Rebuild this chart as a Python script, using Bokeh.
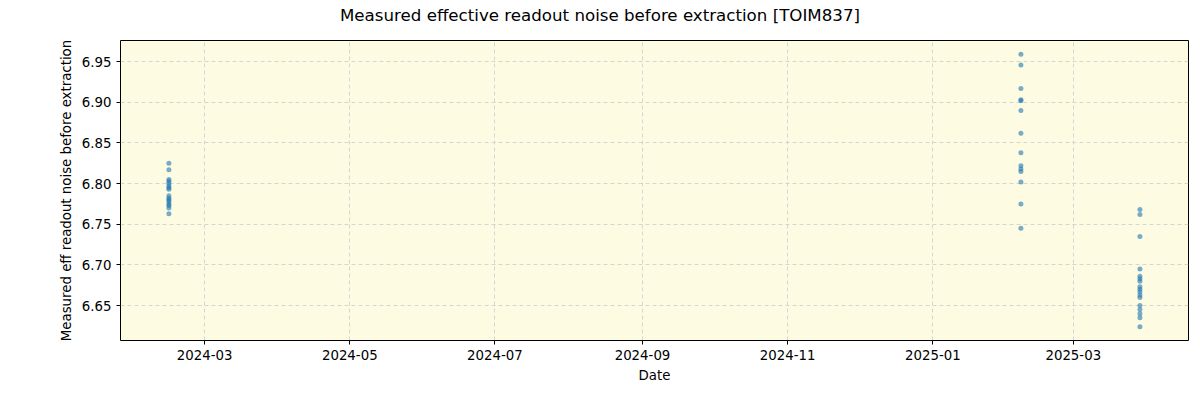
import pandas as pd
from bokeh.plotting import figure
from bokeh.layouts import column
from bokeh.models import (FixedTicker, DatetimeTickFormatter, Range1d, ColumnDataSource,
                          NumeralTickFormatter, Div)
from bokeh.embed import file_html
from bokeh.resources import INLINE

title_text = "Measured effective readout noise before extraction [TOIM837]"
dates1 = ["2024-02-15"] * 16
vals1 = [6.825, 6.817, 6.805, 6.803, 6.800, 6.797, 6.795, 6.793, 6.785, 6.782,
         6.780, 6.778, 6.775, 6.773, 6.770, 6.763]
dates2 = ["2025-02-07"] * 14
vals2 = [6.959, 6.946, 6.917, 6.903, 6.902, 6.890, 6.862, 6.838, 6.822, 6.818,
         6.815, 6.802, 6.775, 6.745]
dates3 = ["2025-03-29"] * 17
vals3 = [6.768, 6.762, 6.735, 6.695, 6.686, 6.683, 6.680, 6.673, 6.670, 6.667,
         6.663, 6.660, 6.650, 6.645, 6.640, 6.635, 6.624]
tick_months = ["2024-03-01", "2024-05-01", "2024-07-01", "2024-09-01",
               "2024-11-01", "2025-01-01", "2025-03-01"]
y_ticks = [6.65, 6.70, 6.75, 6.80, 6.85, 6.90, 6.95]

dates = pd.to_datetime(dates1 + dates2 + dates3)
vals = vals1 + vals2 + vals3
src = ColumnDataSource(dict(x=dates, y=vals))

x0 = pd.Timestamp("2024-01-25 16:00").value / 1e6
x1 = pd.Timestamp("2025-04-18 10:00").value / 1e6

title = Div(text=title_text, width=1200, height=40, margin=0,
            styles={"font-family": "DejaVu Sans", "font-size": "12.5pt",
                    "text-align": "center", "width": "1200px", "line-height": "32px",
                    "color": "black"})

p = figure(width=1200, height=360, x_axis_type="datetime",
           output_backend="svg", toolbar_location=None,
           x_range=Range1d(x0, x1), y_range=Range1d(6.607, 6.976))
p.min_border_left = 120
p.min_border_right = 12
p.min_border_bottom = 60
p.min_border_top = 0
p.margin = 0

p.background_fill_color = "#fdfce2"
p.border_fill_color = "white"
p.outline_line_color = "black"
p.outline_line_width = 1

p.scatter("x", "y", source=src, size=5, color="#1f77b4", alpha=0.6, line_color=None)

p.xaxis.ticker = FixedTicker(ticks=[pd.Timestamp(t).value / 1e6 for t in tick_months])
p.xaxis.formatter = DatetimeTickFormatter(months="%Y-%m", days="%Y-%m", years="%Y-%m")
p.yaxis.ticker = FixedTicker(ticks=y_ticks)
p.yaxis.formatter = NumeralTickFormatter(format="0.00")
p.xaxis.axis_label = "Date"
p.yaxis.axis_label = "Measured eff readout noise before extraction"

for ax in (p.xaxis[0], p.yaxis[0]):
    ax.major_label_text_font = "DejaVu Sans"
    ax.major_label_text_font_size = "10pt"
    ax.axis_label_text_font = "DejaVu Sans"
    ax.axis_label_text_font_size = "10pt"
    ax.axis_label_text_font_style = "normal"
    ax.axis_label_text_color = "black"
    ax.major_label_text_color = "black"
    ax.minor_tick_line_color = None
    ax.major_tick_out = 4
    ax.major_tick_in = 0
    ax.axis_line_color = None

for g in (p.xgrid[0], p.ygrid[0]):
    g.grid_line_color = "#cccccc"
    g.grid_line_dash = "4 3"
    g.grid_line_width = 0.8

layout = column(title, p, spacing=0)
open("out.html", "w").write(file_html(layout, INLINE))
